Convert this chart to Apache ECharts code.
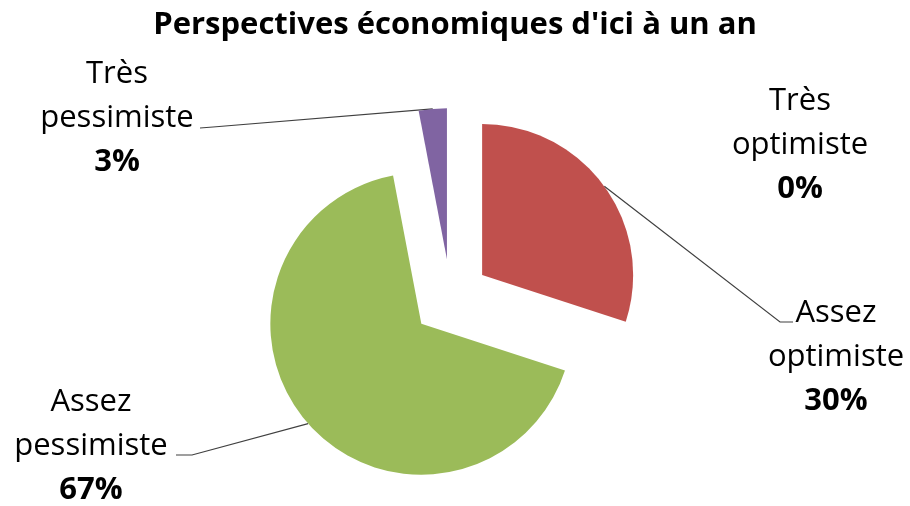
<!DOCTYPE html>
<html><head><meta charset="utf-8">
<script src="https://cdn.jsdelivr.net/npm/echarts@6/dist/echarts.min.js"></script>
<style>html,body{margin:0;padding:0;background:#fff}#c{width:910px;height:506px}</style>
</head><body><div id="c"></div>
<script>
const title = "Perspectives économiques d'ici à un an";
const categories = ['Très optimiste', 'Assez optimiste', 'Assez pessimiste', 'Très pessimiste'];
const values = [0, 30, 67, 3];
const colors = ['#4F81BD', '#C0504D', '#9BBB59', '#8064A2'];

const chart = echarts.init(document.getElementById('c'), null, {renderer: 'canvas'});

// explosion: each slice is drawn by its own pie series, shifted along its mid-angle
const CX = 450.6, CY = 298, R = 151, EXPLODE = 39;
const total = values.reduce((a, b) => a + b, 0);
let cum = 0;
const mids = values.map(v => { const m = (cum + v / 2) / total * 2 * Math.PI; cum += v; return m; });
const centers = mids.map(m => [CX + EXPLODE * Math.sin(m), CY - EXPLODE * Math.cos(m)]);
// label placement (centre of text block) and leader-line elbow/end points
const labelSpots = {0: [800, 145], 1: [836, 357], 2: [91, 446], 3: [117, 118]};
const leaderEnds = {1: [[780, 322], [793, 322]], 2: [[192, 455], [176, 455]], 3: [[213, 127], [200, 128]]};

const series = categories.map((name, k) => ({
  type: 'pie',
  silent: true,
  center: centers[k],
  radius: R,
  startAngle: 90,
  clockwise: true,
  avoidLabelOverlap: false,
  emphasis: {disabled: true},
  label: {
    show: true, position: 'outside', color: '#000',
    fontFamily: 'Open Sans', fontSize: 31, lineHeight: 44, align: 'center',
    formatter: p => p.name.replace(' ', '\n') + '\n{v|' + p.value + '%}',
    rich: {v: {fontFamily: 'Open Sans', fontWeight: 'bold', fontSize: 31, lineHeight: 44, color: '#000', align: 'center'}}
  },
  labelLine: {show: true, length: 10, length2: 10, lineStyle: {color: '#404040', width: 1.2}},
  labelLayout: p => {
    if (p.dataIndex !== k) return {};
    const o = {x: labelSpots[k][0], y: labelSpots[k][1], align: 'center', verticalAlign: 'middle'};
    if (leaderEnds[k]) {
      const anchor = [centers[k][0] + R * Math.sin(mids[k]), centers[k][1] - R * Math.cos(mids[k])];
      o.labelLinePoints = [anchor, leaderEnds[k][0], leaderEnds[k][1]];
    }
    return o;
  },
  data: categories.map((n, i) => ({
    name: n, value: values[i],
    itemStyle: {color: i === k ? colors[i] : 'rgba(0,0,0,0)'},
    label: {show: i === k},
    labelLine: {show: i === k && values[i] > 0}
  }))
}));

chart.setOption({
  animation: false,
  backgroundColor: '#fff',
  title: {
    text: title, left: 'center', top: 5,
    textStyle: {fontFamily: 'Open Sans', fontWeight: 'bold', fontSize: 31, color: '#000'}
  },
  series: series
});
</script></body></html>
